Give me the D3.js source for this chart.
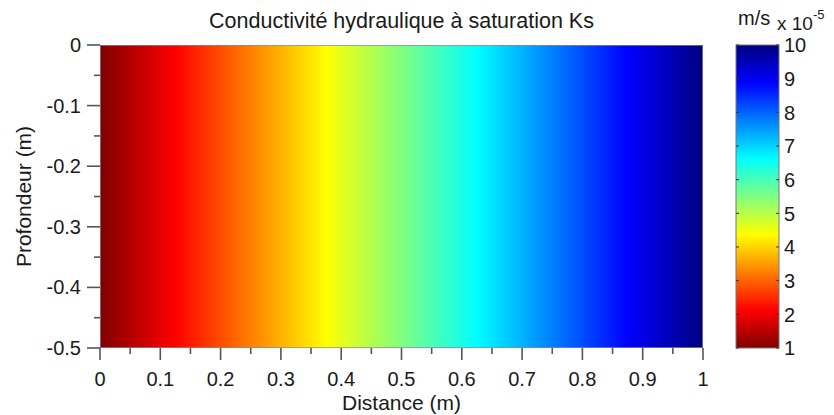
<!DOCTYPE html>
<html>
<head>
<meta charset="utf-8">
<script src="https://cdn.jsdelivr.net/npm/d3@7"></script>
<style>
  html, body { margin: 0; padding: 0; background: #fff; }
  svg { display: block; }
  text { font-family: "Liberation Sans", Arial, Helvetica, sans-serif; fill: #1a1a1a; }
</style>
</head>
<body>
<svg id="chart" width="834" height="415"></svg>
<script>
// Saturated hydraulic conductivity Ks (x 1e-5 m/s) along the distance axis
const distance = [0, 0.1, 0.2, 0.3, 0.4, 0.5, 0.6, 0.7, 0.8, 0.9, 1.0];
const ks = [1, 1.9, 2.8, 3.7, 4.6, 5.5, 6.4, 7.3, 8.2, 9.1, 10];
const depthRange = [0, -0.5];

const xTicks = [0, 0.1, 0.2, 0.3, 0.4, 0.5, 0.6, 0.7, 0.8, 0.9, 1];
const xMinorTicks = [0.05, 0.15, 0.25, 0.35, 0.45, 0.55, 0.65, 0.75, 0.85, 0.95];
const yTicks = [0, -0.1, -0.2, -0.3, -0.4, -0.5];
const yMinorTicks = [-0.05, -0.15, -0.25, -0.35, -0.45];
const cbTicks = [1, 2, 3, 4, 5, 6, 7, 8, 9, 10];

const svg = d3.select("#chart");
const plot = { left: 100, right: 703, top: 45, bottom: 348 };
const cb = { left: 736, right: 779, top: 45, bottom: 348 };

const x = d3.scaleLinear().domain([0, 1]).range([plot.left, plot.right]);
const y = d3.scaleLinear().domain(depthRange).range([plot.top, plot.bottom]);
const cbScale = d3.scaleLinear().domain([1, 10]).range([cb.bottom, cb.top]);

// Reversed "jet" colormap: low values dark red, high values dark blue
function jet(t) {
  const c = v => Math.max(0, Math.min(1, v));
  const r = c(Math.min(4 * t - 1.5, -4 * t + 4.5));
  const g = c(Math.min(4 * t - 0.5, -4 * t + 3.5));
  const b = c(Math.min(4 * t + 0.5, -4 * t + 2.5));
  return d3.rgb(r * 255, g * 255, b * 255).formatHex();
}
const colorT = d3.scaleLinear().domain([1, 10]).range([1, 0]).clamp(true);
const color = v => jet(colorT(v));

const defs = svg.append("defs");

// Field gradient (interpolated shading between the sampled nodes)
const fieldGrad = defs.append("linearGradient")
  .attr("id", "fieldGrad").attr("gradientUnits", "userSpaceOnUse")
  .attr("x1", x(0)).attr("x2", x(1)).attr("y1", 0).attr("y2", 0);
const sub = 16;
for (let i = 0; i < distance.length - 1; i++) {
  for (let k = 0; k < sub; k++) {
    const f = k / sub;
    const d = distance[i] + f * (distance[i + 1] - distance[i]);
    const v = ks[i] + f * (ks[i + 1] - ks[i]);
    fieldGrad.append("stop").attr("offset", d).attr("stop-color", color(v));
  }
}
fieldGrad.append("stop").attr("offset", 1).attr("stop-color", color(ks[ks.length - 1]));

svg.append("rect")
  .attr("x", x(distance[0])).attr("y", y(depthRange[0]))
  .attr("width", x(distance[distance.length - 1]) - x(distance[0]))
  .attr("height", y(depthRange[1]) - y(depthRange[0]))
  .attr("fill", "url(#fieldGrad)");

// Plot frame
svg.append("rect")
  .attr("x", plot.left + 0.5).attr("y", plot.top + 0.5)
  .attr("width", plot.right - plot.left - 1).attr("height", plot.bottom - plot.top - 1)
  .attr("fill", "none").attr("stroke", "#8a8a9a").attr("stroke-width", 1).attr("stroke-opacity", 0.7);

const fmt = d => String(d);
const tickColor = "#555";
// X axis
const xAxisG = svg.append("g").attr("transform", `translate(0,${plot.bottom})`);
xAxisG.selectAll("line.major").data(xTicks).join("line")
  .attr("x1", d => x(d)).attr("x2", d => x(d)).attr("y1", 0).attr("y2", 12)
  .attr("stroke", tickColor).attr("stroke-width", 1.6);
xAxisG.selectAll("line.minor").data(xMinorTicks).join("line").attr("class", "minor")
  .attr("x1", d => x(d)).attr("x2", d => x(d)).attr("y1", 0).attr("y2", 6)
  .attr("stroke", tickColor).attr("stroke-width", 1.6);
xAxisG.selectAll("text").data(xTicks).join("text")
  .attr("x", d => x(d)).attr("y", 38)
  .attr("text-anchor", "middle").attr("font-size", 20)
  .text(fmt);

// Y axis
const yAxisG = svg.append("g").attr("transform", `translate(${plot.left},0)`);
yAxisG.selectAll("line.major").data(yTicks).join("line")
  .attr("x1", -13).attr("x2", 0).attr("y1", d => y(d)).attr("y2", d => y(d))
  .attr("stroke", tickColor).attr("stroke-width", 1.6);
yAxisG.selectAll("line.minor").data(yMinorTicks).join("line").attr("class", "minor")
  .attr("x1", -6).attr("x2", 0).attr("y1", d => y(d)).attr("y2", d => y(d))
  .attr("stroke", tickColor).attr("stroke-width", 1.6);
yAxisG.selectAll("text").data(yTicks).join("text")
  .attr("x", -19).attr("y", d => y(d)).attr("dy", "0.35em")
  .attr("text-anchor", "end").attr("font-size", 20)
  .text(fmt);

// Titles
svg.append("text").attr("x", (plot.left + plot.right) / 2).attr("y", 28)
  .attr("text-anchor", "middle").attr("font-size", 21.5)
  .text("Conductivité hydraulique à saturation Ks");
svg.append("text").attr("x", (plot.left + plot.right) / 2).attr("y", 410)
  .attr("text-anchor", "middle").attr("font-size", 21)
  .text("Distance (m)");
svg.append("text")
  .attr("transform", `translate(31,${(plot.top + plot.bottom) / 2}) rotate(-90)`)
  .attr("text-anchor", "middle").attr("font-size", 21)
  .text("Profondeur (m)");

// Colorbar
const cbGrad = defs.append("linearGradient")
  .attr("id", "cbGrad").attr("gradientUnits", "userSpaceOnUse")
  .attr("x1", 0).attr("x2", 0).attr("y1", cbScale(1)).attr("y2", cbScale(10));
d3.range(0, 1.0001, 1 / 72).forEach(f => {
  const v = 1 + f * 9;
  cbGrad.append("stop").attr("offset", f).attr("stop-color", color(v));
});
svg.append("rect")
  .attr("x", cb.left).attr("y", cb.top)
  .attr("width", cb.right - cb.left).attr("height", cb.bottom - cb.top)
  .attr("fill", "url(#cbGrad)")
  .attr("stroke", "#777").attr("stroke-width", 1);

const cbG = svg.append("g");
cbG.selectAll("line.l").data(cbTicks).join("line").attr("class", "l")
  .attr("x1", cb.left).attr("x2", cb.left + 3).attr("y1", d => cbScale(d)).attr("y2", d => cbScale(d))
  .attr("stroke", "#333").attr("stroke-width", 1);
cbG.selectAll("line.r").data(cbTicks).join("line").attr("class", "r")
  .attr("x1", cb.right - 3).attr("x2", cb.right).attr("y1", d => cbScale(d)).attr("y2", d => cbScale(d))
  .attr("stroke", "#333").attr("stroke-width", 1);
cbG.selectAll("text").data(cbTicks).join("text")
  .attr("x", cb.right + 5).attr("y", d => cbScale(d)).attr("dy", "0.36em")
  .attr("font-size", 20)
  .text(d => d);

// Units and exponent
svg.append("text").attr("x", 738).attr("y", 25).attr("font-size", 20).text("m/s");
const expo = svg.append("text").attr("x", 777).attr("y", 30).attr("font-size", 19);
expo.append("tspan").text("x 10");
expo.append("tspan").attr("font-size", 13).attr("dy", -11).text("-5");
</script>
</body>
</html>
